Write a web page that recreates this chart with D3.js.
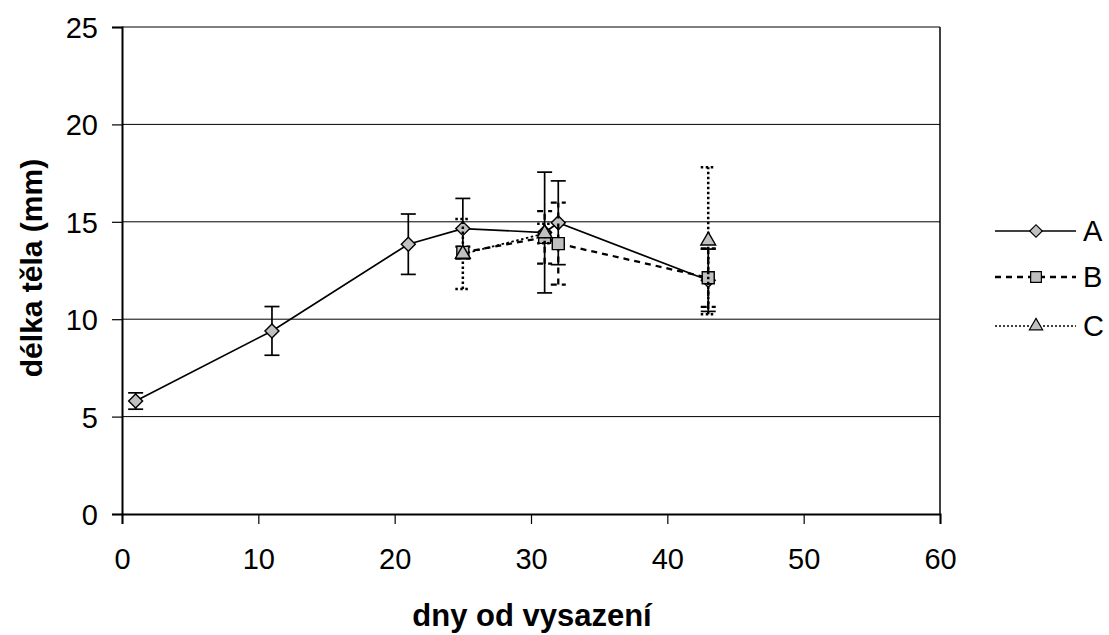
<!DOCTYPE html>
<html><head><meta charset="utf-8">
<script src="https://cdn.jsdelivr.net/npm/d3@7"></script>
<style>body{margin:0;background:#fff}svg{display:block;font-family:"Liberation Sans",Arial,sans-serif}</style>
</head><body><svg id="c" width="1109" height="635"></svg>
<script>
const seriesNames = ["A","B","C"];
const daysA = [1,11,21,25,31,32,43];
const valsA = [5.8,9.4,13.85,14.65,14.45,14.95,12.0];
const errA  = [0.42,1.25,1.55,1.55,3.1,2.15,1.6];
const daysB = [25,31,32,43];
const valsB = [13.43,14.2,13.88,12.13];
const errB  = [0.3,1.35,2.1,1.5];
const daysC = [25,31,32,43];
const valsC = [13.35,14.4,null,14.03];
const errC  = [1.8,0.5,null,3.77];
const xTicks = [0,10,20,30,40,50,60];
const yTicks = [0,5,10,15,20,25];

const svg = d3.select("#c");
const L=122,R=940,T=27,B=514;
const x = d3.scaleLinear().domain([0,60]).range([L,R]);
const y = d3.scaleLinear().domain([0,25]).range([B,T]);

svg.append("g").selectAll("line").data(yTicks.filter(d=>d>0)).join("line")
  .attr("x1",L).attr("x2",R).attr("y1",d=>y(d)).attr("y2",d=>y(d))
  .attr("stroke","#000").attr("stroke-width",1);
svg.append("line").attr("x1",R).attr("x2",R).attr("y1",T).attr("y2",B).attr("stroke","#000").attr("stroke-width",1.5);

const xa = svg.append("g").attr("transform",`translate(0,${B})`)
  .call(d3.axisBottom(x).tickValues(xTicks).tickSize(10).tickPadding(24));
const ya = svg.append("g").attr("transform",`translate(${L},0)`)
  .call(d3.axisLeft(y).tickValues(yTicks).tickSize(10).tickPadding(14));
[xa,ya].forEach(a=>{
  a.select(".domain").attr("stroke","#000").attr("stroke-width",2);
  a.selectAll(".tick line").attr("stroke","#000").attr("stroke-width",1.2);
  a.selectAll(".tick text").attr("font-size",29).attr("fill","#000").attr("font-family","Liberation Sans, Arial, sans-serif");
});
ya.selectAll(".tick text").attr("dy","0.36em");

svg.append("text").attr("x",532).attr("y",626).attr("text-anchor","middle")
  .attr("font-size",31).attr("font-weight","bold").text("dny od vysazení");
svg.append("text").attr("transform","translate(42,268) rotate(-90)").attr("text-anchor","middle")
  .attr("font-size",30).attr("font-weight","bold").text("délka těla (mm)");

const styles = {
  A:{dash:null,w:1.7},
  B:{dash:"6,5",w:2.3},
  C:{dash:"2.5,2.5",w:2.5}
};
const sym = {A:d3.symbolSquare,B:d3.symbolSquare,C:d3.symbolTriangle};
const symSize = {A:98,B:144,C:95};
const symRot = {A:" rotate(45)",B:"",C:""};

function drawSeries(name,days,vals,errs){
  const st=styles[name];
  const data=days.map((d,i)=>({d,v:vals[i],e:errs[i]}));
  const g=svg.append("g");
  data.filter(p=>p.v!=null).forEach(p=>{
    const eg=g.append("g").attr("stroke","#000").attr("stroke-width",st.w).attr("stroke-dasharray",st.dash);
    eg.append("line").attr("x1",x(p.d)).attr("x2",x(p.d)).attr("y1",y(p.v-p.e)).attr("y2",y(p.v+p.e));
    [p.v-p.e,p.v+p.e].forEach(v=>eg.append("line").attr("x1",x(p.d)-7.5).attr("x2",x(p.d)+7.5).attr("y1",y(v)).attr("y2",y(v)));
  });
  const line=d3.line().defined(p=>p.v!=null).x(p=>x(p.d)).y(p=>y(p.v));
  g.append("path").datum(data).attr("d",line).attr("fill","none").attr("stroke","#000")
    .attr("stroke-width",name==="C"?1.8:st.w).attr("stroke-dasharray",st.dash);
  return {g,data};
}
const sA=drawSeries("A",daysA,valsA,errA);
const sB=drawSeries("B",daysB,valsB,errB);
const sC=drawSeries("C",daysC,valsC,errC);
function markers(name,s){
  s.g.selectAll("path.m").data(s.data.filter(p=>p.v!=null)).join("path").attr("class","m")
    .attr("d",d3.symbol().type(sym[name]).size(symSize[name]))
    .attr("transform",p=>`translate(${x(p.d)},${y(p.v)})`+symRot[name])
    .attr("fill","#c0c0c0").attr("stroke","#000").attr("stroke-width",1.4);
}
markers("A",sA);markers("B",sB);markers("C",sC);

const lg=svg.append("g");
const ly=[231,277,326];
seriesNames.forEach((n,i)=>{
  const st=styles[n];
  lg.append("line").attr("x1",995).attr("x2",1076).attr("y1",ly[i]).attr("y2",ly[i])
    .attr("stroke","#000").attr("stroke-width",n==="C"?1.6:st.w).attr("stroke-dasharray",n==="C"?"2,2":st.dash);
  lg.append("path").attr("d",d3.symbol().type(sym[n]).size(symSize[n]*0.8))
    .attr("transform",`translate(1036,${ly[i]})`+symRot[n])
    .attr("fill","#c0c0c0").attr("stroke","#000").attr("stroke-width",1.2);
  lg.append("text").attr("x",1083).attr("y",ly[i]).attr("dy","0.36em").attr("font-size",29).text(n);
});
</script></body></html>
